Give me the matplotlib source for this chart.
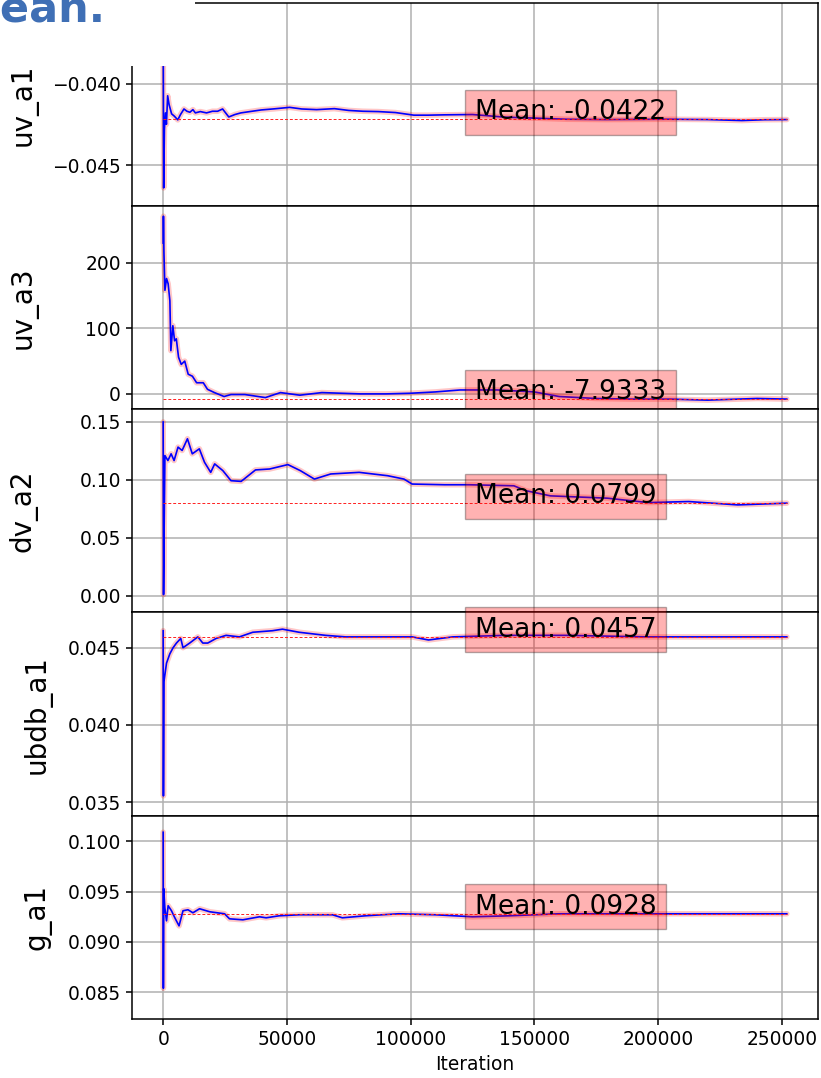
import matplotlib
matplotlib.use("Agg")
import matplotlib.pyplot as plt
from matplotlib.patches import Rectangle

N_ITER = 252000

names = ["uv_a1", "uv_a3", "dv_a2", "ubdb_a1", "g_a1"]
means = [-0.0422, -7.9333, 0.0799, 0.0457, 0.0928]

uv_a1_x = [0, 200, 500, 900, 1300, 1800, 2400, 3400, 4500, 5900, 7000, 8400, 9600,
           10800, 12000, 13000, 15000, 17500, 19900, 22000, 24000, 26500, 29000,
           31400, 35000, 39600, 45000, 51100, 56000, 62000, 69200, 75000, 80700,
           87000, 93900, 101300, 107000, 113600, 125000, 138000, 150000, 163000,
           179000, 192000, 204000, 220000, 233900, 243000, 252000]
uv_a1_y = [-0.0356, -0.0464, -0.0428, -0.0418, -0.0425, -0.04075, -0.0413, -0.04186,
           -0.0420, -0.04223, -0.0419, -0.04156, -0.0417, -0.04176, -0.0416, -0.0418,
           -0.04172, -0.0418, -0.0417, -0.0417, -0.04156, -0.04205, -0.0419, -0.0418,
           -0.04172, -0.04162, -0.04155, -0.04146, -0.04156, -0.0416, -0.04154,
           -0.04165, -0.0417, -0.04172, -0.04178, -0.04194, -0.04194, -0.04192,
           -0.0419, -0.04206, -0.04212, -0.04219, -0.04221, -0.0422, -0.04219,
           -0.04221, -0.04227, -0.04222, -0.04221]

uv_a3_x = [0, 100, 300, 700, 1350, 2000, 2700, 3100, 3900, 4600, 5300, 6200, 7300,
           8700, 10100, 11800, 13500, 16200, 17900, 20700, 24600, 27400, 33000, 41300,
           47400, 55200, 64100, 71900, 79700, 90000, 100000, 110000, 120000, 135000,
           150000, 160000, 175000, 190000, 205000, 220000, 240000, 252000]
uv_a3_y = [230, 271, 216, 158, 176, 168, 142, 66, 104, 81, 84, 56, 45, 50, 30, 27,
           17, 17, 7, 2, -4, -1, -1, -5.6, 2, -2, 2, 1, 0, 0, 1, 3, 6, 6, 3, -4, -7,
           -8, -8, -9.5, -7, -7.93]

dv_a2_x = [0, 150, 400, 700, 1900, 3200, 4400, 6000, 7650, 9800, 11750, 14600, 16700,
           19200, 20800, 24100, 27400, 31500, 37300, 43000, 50400, 55400, 61100, 67700,
           79200, 90700, 97300, 100600, 113700, 123600, 141700, 146700, 156500, 179500,
           196000, 212400, 232200, 252000]
dv_a2_y = [0.150, 0.001, 0.060, 0.121, 0.1167, 0.1225, 0.1167, 0.1283, 0.1254, 0.1355,
           0.1225, 0.1268, 0.1152, 0.1065, 0.1138, 0.108, 0.0993, 0.0987, 0.1086,
           0.1094, 0.1132, 0.108, 0.1007, 0.1051, 0.1065, 0.1036, 0.1007, 0.0964,
           0.0958, 0.0958, 0.0949, 0.0906, 0.0862, 0.0842, 0.0804, 0.0813, 0.0784,
           0.0799]

ubdb_a1_x = [0, 100, 300, 1340, 2680, 4000, 5360, 7100, 8000, 10700, 14000, 16000,
             18000, 21400, 25400, 30800, 36200, 44200, 48200, 54900, 65600, 73700,
             81700, 95100, 100600, 107200, 117000, 138400, 163000, 196000, 220700,
             242000, 252000]
ubdb_a1_y = [0.0461, 0.0354, 0.0428, 0.0440, 0.0446, 0.0450, 0.0453, 0.0456, 0.0450,
             0.0453, 0.0457, 0.0453, 0.0453, 0.0456, 0.0458, 0.0457, 0.0460, 0.0461,
             0.0462, 0.0460, 0.0458, 0.0457, 0.0457, 0.0457, 0.0457, 0.0455, 0.0457,
             0.0458, 0.0458, 0.0457, 0.0457, 0.0457, 0.0457]

g_a1_x = [0, 80, 200, 670, 1340, 2000, 3350, 4700, 6400, 8000, 10000, 12000, 14700,
          18800, 24800, 26800, 32200, 38900, 41600, 46900, 55000, 68400, 72400, 81800,
          88500, 95200, 110000, 125000, 140000, 160000, 190000, 220000, 252000]
g_a1_y = [0.1009, 0.0854, 0.0953, 0.0934, 0.0921, 0.0936, 0.0931, 0.0924, 0.0916,
          0.0931, 0.0932, 0.0929, 0.0933, 0.0930, 0.0928, 0.0923, 0.0922, 0.0925,
          0.0924, 0.0926, 0.0927, 0.0927, 0.0924, 0.0926, 0.0927, 0.0928, 0.0927,
          0.0925, 0.0926, 0.0928, 0.0928, 0.0928, 0.0928]

series_x = [uv_a1_x, uv_a3_x, dv_a2_x, ubdb_a1_x, g_a1_x]
series_y = [uv_a1_y, uv_a3_y, dv_a2_y, ubdb_a1_y, g_a1_y]

y_ticks = [[-0.045, -0.040], [0, 100, 200], [0.00, 0.05, 0.10, 0.15],
           [0.035, 0.040, 0.045], [0.085, 0.090, 0.095, 0.100]]
x_ticks = [0, 50000, 100000, 150000, 200000, 250000]

# axis ranges and label placement (layout, not data)
y_limits = [(-0.04751, -0.03504), (-23.4, 286.7), (-0.0145, 0.161),
            (0.03411, 0.04728), (0.08234, 0.10254)]
label_x = [-0.138, -0.138, -0.138, -0.117, -0.117]

plt.rcParams["axes.linewidth"] = 1.1
plt.rcParams["grid.color"] = "#b0b0b0"
plt.rcParams["grid.linewidth"] = 1.1
plt.rcParams["xtick.major.size"] = 4.5
plt.rcParams["ytick.major.size"] = 4.5
plt.rcParams["xtick.major.width"] = 1.1
plt.rcParams["ytick.major.width"] = 1.1

fig, axes = plt.subplots(5, 1, sharex=True, figsize=(8.21, 10.78), dpi=100)
fig.subplots_adjust(left=0.1608, right=0.9963, top=0.9975, bottom=0.0547, hspace=0)

for i, ax in enumerate(axes):
    x, y, m = series_x[i], series_y[i], means[i]
    ax.plot(x, y, color="red", alpha=0.22, lw=4.0, solid_capstyle="round")
    ax.plot(x, y, color="blue", lw=1.2)
    ax.hlines(m, 0, N_ITER, colors="#ff2020", linestyles=(0, (3, 2)), lw=0.7)
    ax.text(N_ITER / 2, m, f"Mean: {m:.4f}", fontsize=19,
            bbox=dict(facecolor="red", alpha=0.3, boxstyle="square,pad=0.36"))
    ax.set_ylim(*y_limits[i])
    ax.set_yticks(y_ticks[i])
    ax.set_ylabel(names[i], fontsize=20)
    ax.yaxis.set_label_coords(label_x[i], 0.5)
    ax.tick_params(labelsize=13.4)
    ax.grid(True)

axes[-1].set_xticks(x_ticks)
axes[-1].set_xlim(-0.05 * N_ITER, 1.05 * N_ITER)
axes[-1].set_xlabel("Iteration", fontsize=13.4)

# slide title box overlapping the top-left corner of the screenshot
fig.add_artist(Rectangle((0, 1 - 66 / 1078), 195 / 821, 66 / 1078,
                         transform=fig.transFigure, facecolor="white",
                         edgecolor="none", zorder=10))
fig.text(105 / 821, 1 - 22 / 1078, "Mean.", fontsize=31, fontweight="bold",
         color="#3f6fb5", ha="right", va="baseline", zorder=11)

fig.savefig("out.png", dpi=100)
